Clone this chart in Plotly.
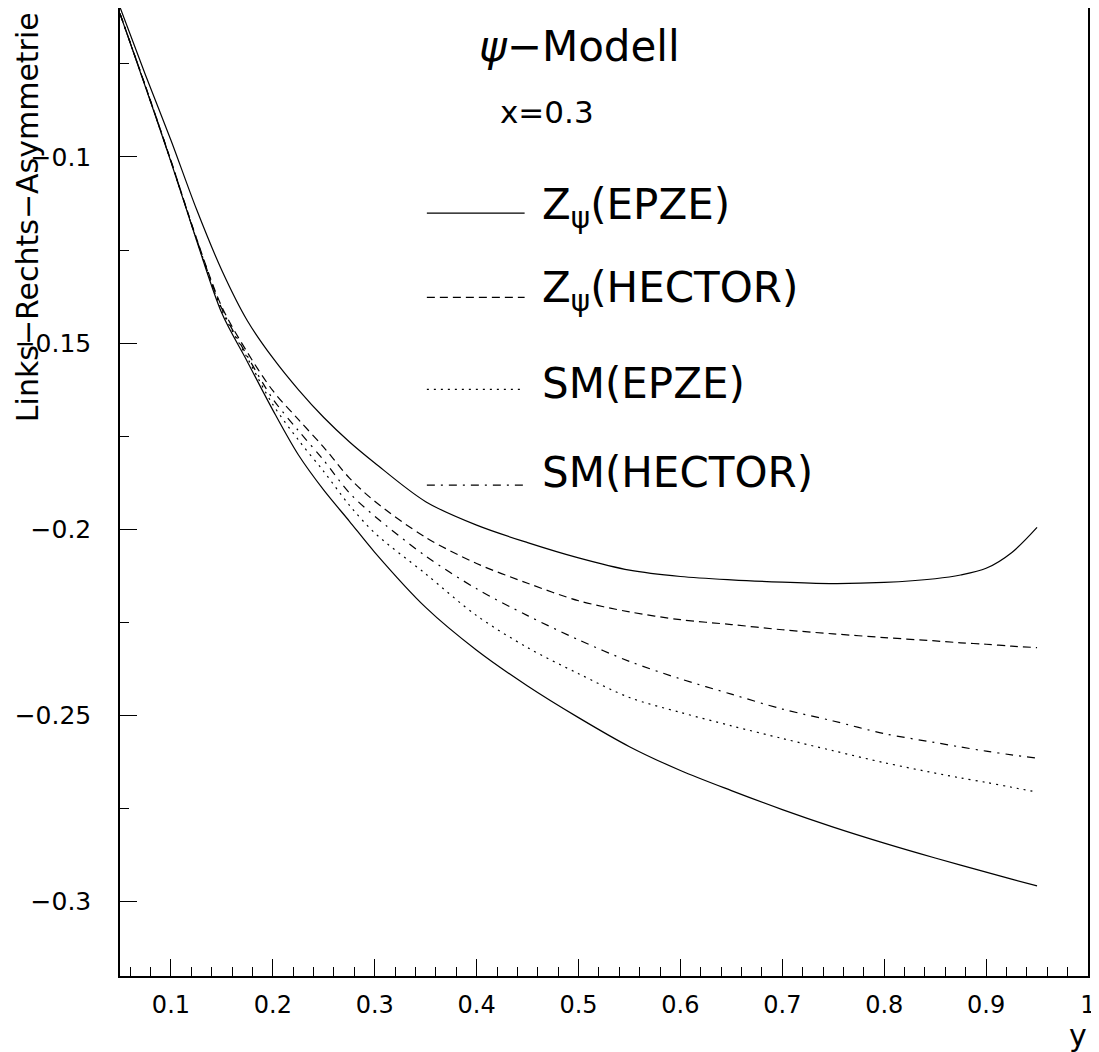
import plotly.graph_objects as go

# y (Bjorken y) grid
y_vals = [0.05, 0.075, 0.1, 0.125, 0.15, 0.175, 0.2, 0.225, 0.25, 0.275, 0.3, 0.35, 0.4,
          0.45, 0.5, 0.55, 0.6, 0.65, 0.7, 0.75, 0.8, 0.85, 0.875, 0.9, 0.925, 0.95]

# Links-Rechts-Asymmetrie, x=0.3
zpsi_epze = [-0.0598, -0.0780, -0.0955, -0.1140, -0.1305, -0.1440, -0.1540, -0.1625, -0.1700,
             -0.1765, -0.1822, -0.1926, -0.1989, -0.2036, -0.2077, -0.2110, -0.2127, -0.2136,
             -0.2142, -0.2146, -0.2143, -0.2133, -0.2123, -0.2105, -0.2063, -0.1995]
zpsi_hector = [-0.0615, -0.0810, -0.1010, -0.1218, -0.1403, -0.1525, -0.1628, -0.1705, -0.1780,
               -0.1862, -0.1925, -0.2022, -0.2092, -0.2145, -0.2192, -0.2222, -0.2243, -0.2256,
               -0.2270, -0.2281, -0.2291, -0.2300, -0.2305, -0.2309, -0.2314, -0.2318]
sm_epze = [-0.0615, -0.0811, -0.1012, -0.1221, -0.1412, -0.1540, -0.1665, -0.1760, -0.1845,
           -0.1935, -0.2010, -0.2120, -0.2232, -0.2318, -0.2388, -0.2452, -0.2492, -0.2528,
           -0.2562, -0.2595, -0.2627, -0.2655, -0.2668, -0.2680, -0.2693, -0.2706]
sm_hector = [-0.0615, -0.0810, -0.1011, -0.1220, -0.1408, -0.1535, -0.1650, -0.1735, -0.1815,
             -0.1902, -0.1965, -0.2072, -0.2160, -0.2232, -0.2297, -0.2355, -0.2402, -0.2443,
             -0.2483, -0.2515, -0.2549, -0.2573, -0.2585, -0.2596, -0.2606, -0.2615]
zpsi_epze_low = [-0.0615, -0.0812, -0.1013, -0.1223, -0.1420, -0.1550, -0.1680, -0.1800, -0.1895,
                 -0.1978, -0.2062, -0.2210, -0.2325, -0.2421, -0.2506, -0.2584, -0.2648, -0.2702,
                 -0.2753, -0.2800, -0.2843, -0.2883, -0.2902, -0.2921, -0.2940, -0.2958]

x_ticks = [0.1, 0.2, 0.3, 0.4, 0.5, 0.6, 0.7, 0.8, 0.9, 1.0]
x_ticktext = ["0.1", "0.2", "0.3", "0.4", "0.5", "0.6", "0.7", "0.8", "0.9", "1"]
y_ticks = [-0.3, -0.25, -0.2, -0.15, -0.1]
y_ticktext = ["\u22120.3", "\u22120.25", "\u22120.2", "\u22120.15", "\u22120.1"]

FONT = "DejaVu Sans"
thin = 1.2

fig = go.Figure()
series = [(zpsi_epze, None), (zpsi_hector, "8px,5px"), (sm_epze, "2px,5px"),
          (sm_hector, "8px,6px,2px,6px"), (zpsi_epze_low, None)]
for vals, dash in series:
    fig.add_trace(go.Scatter(x=y_vals, y=vals, mode="lines",
                             line=dict(color="black", width=thin, dash=dash,
                                       shape="spline", smoothing=0.9)))

# legend drawn by hand like the original
leg = [("Z<sub>\u03c8</sub>(EPZE)", None, 0.788, 0.794),
       ("Z<sub>\u03c8</sub>(HECTOR)", "8px,5px", 0.701, 0.708),
       ("SM(EPZE)", "2px,5px", 0.606, 0.612),
       ("SM(HECTOR)", "8px,6px,2px,6px", 0.507, 0.520)]
for txt, dash, ly, ty in leg:
    fig.add_shape(type="line", xref="paper", yref="paper", x0=0.317, x1=0.418, y0=ly, y1=ly,
                  line=dict(color="black", width=thin, dash=dash))
    fig.add_annotation(xref="paper", yref="paper", x=0.434, y=ty, text=txt, showarrow=False,
                       xanchor="left", yanchor="middle", font=dict(family=FONT, size=42, color="black"))

fig.add_annotation(xref="paper", yref="paper", x=0.369, y=0.96, text="<i>\u03c8</i>\u2212Modell",
                   showarrow=False, xanchor="left", yanchor="middle",
                   font=dict(family=FONT, size=42, color="black"))
fig.add_annotation(xref="paper", yref="paper", x=0.390, y=0.893, text="x=0.3",
                   showarrow=False, xanchor="left", yanchor="middle",
                   font=dict(family=FONT, size=31, color="black"))
fig.add_annotation(xref="paper", yref="paper", x=-0.096, y=0.784,
                   text="Links\u2212Rechts\u2212Asymmetrie", textangle=-90, showarrow=False,
                   xanchor="center", yanchor="middle", font=dict(family=FONT, size=30, color="black"))
fig.add_annotation(xref="paper", yref="paper", x=0.99, y=-0.061, text="y", showarrow=False,
                   xanchor="center", yanchor="middle", font=dict(family=FONT, size=30, color="black"))

fig.update_xaxes(range=[0.05, 1.0], showline=True, linecolor="black", linewidth=1.5, mirror=True,
                 showgrid=False, zeroline=False, ticks="inside", ticklen=17, tickcolor="black",
                 tickmode="array", tickvals=x_ticks, ticktext=x_ticktext, automargin=False,
                 tickfont=dict(family=FONT, size=24, color="black"), ticklabelstandoff=6,
                 minor=dict(ticks="inside", ticklen=9, tickcolor="black", tickmode="linear",
                            tick0=0, dtick=0.02, showgrid=False))
fig.update_yaxes(range=[-0.32, -0.06], showline=True, linecolor="black", linewidth=1.5, mirror=True,
                 showgrid=False, zeroline=False, ticks="inside", ticklen=17, tickcolor="black",
                 tickmode="array", tickvals=y_ticks, ticktext=y_ticktext, automargin=False,
                 tickfont=dict(family=FONT, size=25, color="black"), ticklabelstandoff=22,
                 minor=dict(ticks="inside", ticklen=9, tickcolor="black", tickmode="linear",
                            tick0=0, dtick=0.025, showgrid=False))

# page body has an 8px margin, so the figure is a little smaller than the window
fig.update_layout(width=1091, height=1044, showlegend=False,
                  margin=dict(l=112, r=11, t=0, b=76),
                  plot_bgcolor="white", paper_bgcolor="white")

fig.write_html("out.html")
